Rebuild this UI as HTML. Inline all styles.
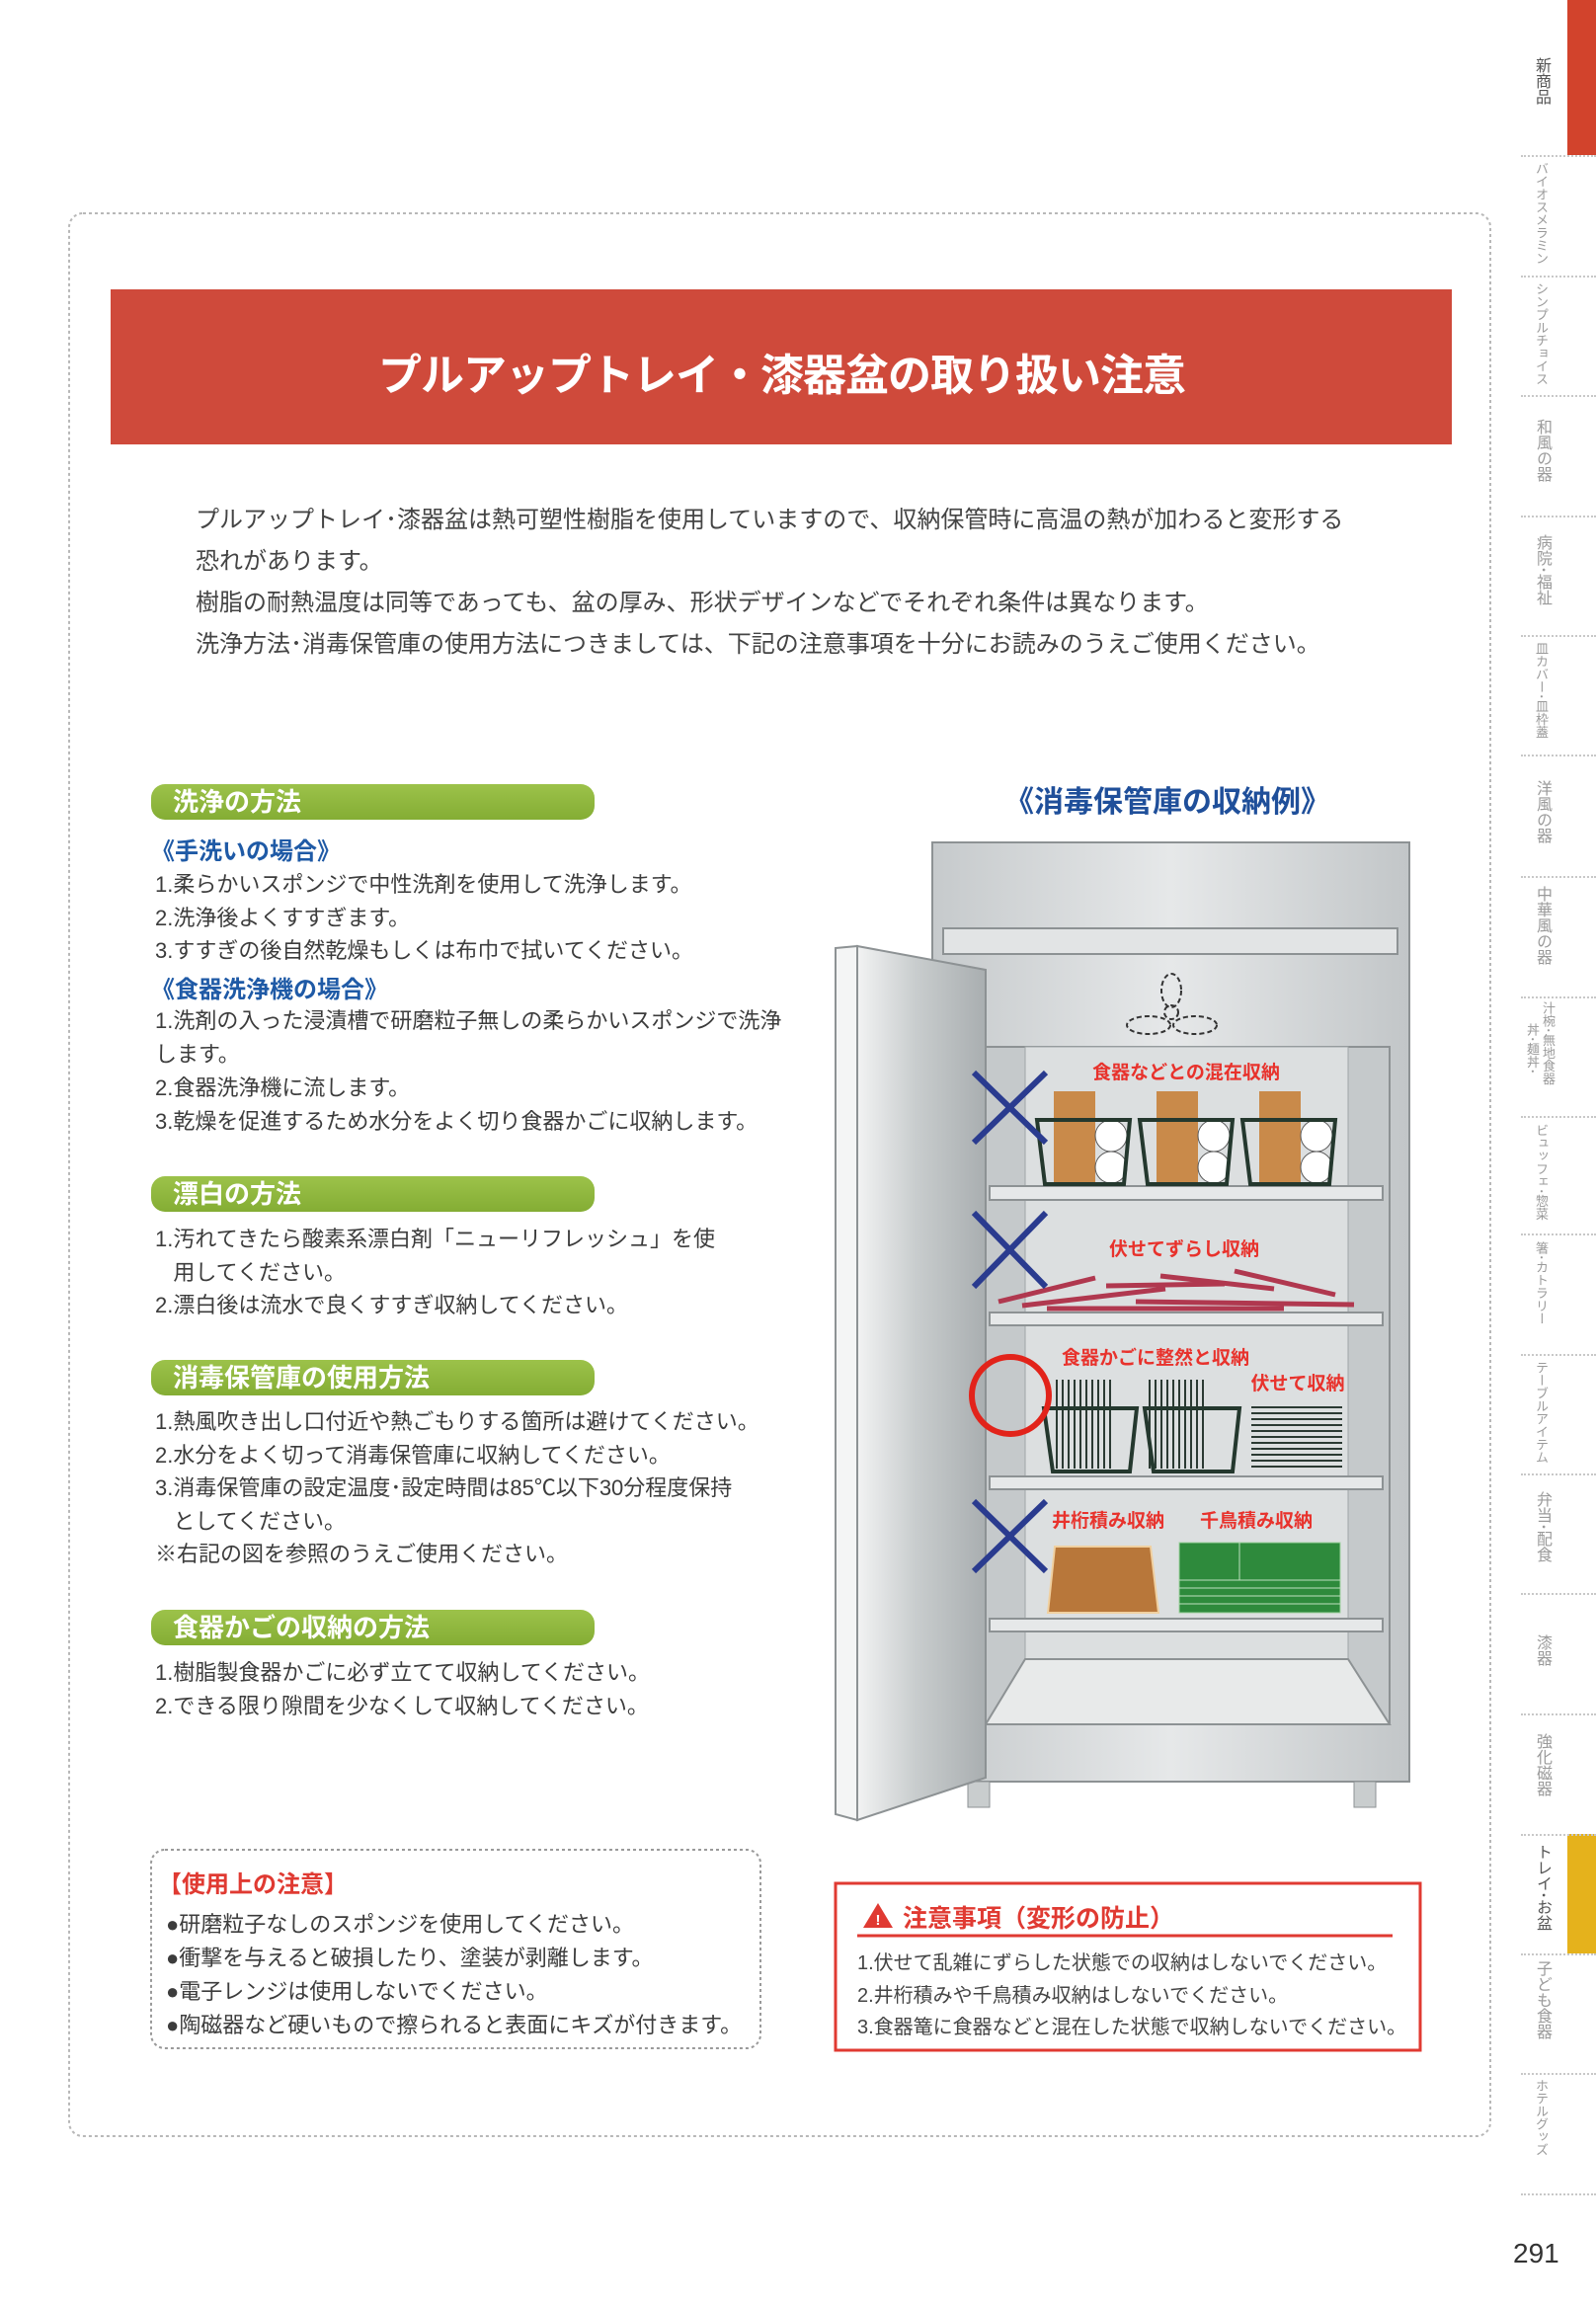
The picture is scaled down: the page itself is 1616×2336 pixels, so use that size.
<!DOCTYPE html>
<html><head><meta charset="utf-8">
<style>
html,body{margin:0;padding:0;background:#fff;}
body{width:1616px;height:2336px;position:relative;overflow:hidden;font-family:"Liberation Sans","Noto Sans CJK JP",sans-serif;color:#3a3a3a;}
.t{position:absolute;white-space:nowrap;}
.b{font-size:22px;color:#3c3c3c;}
.blue{font-size:24px;font-weight:bold;color:#1f5aa6;}
.pill{position:absolute;left:153px;width:449px;height:36px;border-radius:14px;background:linear-gradient(#9cc24a,#84ad34);color:#fff;font-weight:bold;font-size:26px;line-height:36px;padding-left:22px;box-sizing:border-box;}
.side{position:absolute;writing-mode:vertical-rl;font-size:13px;line-height:14px;color:#9a9a9a;letter-spacing:0;}
.sep{position:absolute;left:1540px;width:76px;border-top:2px dotted #c8c8c8;}
.lbl{font-size:19px;font-weight:bold;fill:#e8322c;font-family:"Liberation Sans","Noto Sans CJK JP",sans-serif;}
</style></head><body>
<svg width="1616" height="2336" style="position:absolute;left:0;top:0">
  <defs>
    <linearGradient id="door" x1="0" x2="1">
      <stop offset="0" stop-color="#f2f3f3"/><stop offset="0.45" stop-color="#c9cdce"/><stop offset="1" stop-color="#a9aeb0"/>
    </linearGradient>
    <linearGradient id="body" x1="0" x2="1">
      <stop offset="0" stop-color="#c6cacc"/><stop offset="0.5" stop-color="#e6e8e9"/><stop offset="1" stop-color="#c2c6c8"/>
    </linearGradient>
  </defs>
  <rect x="70" y="216" width="1439" height="1947" rx="14" fill="none" stroke="#b8b8b8" stroke-width="2" stroke-dasharray="3,3"/>
  <rect x="112" y="293" width="1358" height="157" fill="#cf4a3b"/>
  <rect x="944" y="853" width="483" height="951" fill="url(#body)" stroke="#8d9294" stroke-width="2"/>
  <rect x="955" y="940" width="460" height="26" fill="#e2e4e5" stroke="#8d9294" stroke-width="2"/>
  <rect x="998" y="1060" width="409" height="686" fill="#c5c9cb" stroke="#8d9294" stroke-width="2"/>
  <rect x="1038" y="1060" width="327" height="620" fill="#dcdfe0" stroke="#a0a5a7" stroke-width="1"/>
  <polygon points="1038,1680 1365,1680 1407,1746 998,1746" fill="#e8eaea" stroke="#8d9294" stroke-width="2"/>
  <rect x="980" y="1804" width="22" height="26" fill="#c9cdce" stroke="#8d9294"/>
  <rect x="1371" y="1804" width="22" height="26" fill="#c9cdce" stroke="#8d9294"/>
  <g fill="none" stroke="#333" stroke-width="2" stroke-dasharray="5,3">
    <ellipse cx="1186" cy="1003" rx="10" ry="17"/>
    <ellipse cx="1163" cy="1038" rx="22" ry="9"/>
    <ellipse cx="1210" cy="1038" rx="22" ry="9"/>
    <circle cx="1186" cy="1025" r="7"/>
  </g>
  <g fill="#e6e8e9" stroke="#8d9294" stroke-width="2">
    <rect x="1002" y="1201" width="398" height="14"/>
    <rect x="1002" y="1329" width="398" height="13"/>
    <rect x="1002" y="1495" width="398" height="13"/>
    <rect x="1002" y="1639" width="398" height="13"/>
  </g>
  <polygon points="846,960 868,958 868,1843 846,1837" fill="#f4f5f5" stroke="#8d9294" stroke-width="2"/>
  <polygon points="868,958 998,982 998,1800 868,1843" fill="url(#door)" stroke="#8d9294" stroke-width="2"/>
  <g>
    <g>
      <rect x="1067" y="1105" width="42" height="94" fill="#c98a4a"/>
      <circle cx="1125" cy="1150" r="16" fill="#fff" stroke="#555"/><circle cx="1125" cy="1182" r="16" fill="#fff" stroke="#555"/>
      <polygon points="1050,1134 1144,1134 1138,1199 1058,1199" fill="none" stroke="#24382e" stroke-width="4"/>
    </g>
    <g transform="translate(104,0)">
      <rect x="1067" y="1105" width="42" height="94" fill="#c98a4a"/>
      <circle cx="1125" cy="1150" r="16" fill="#fff" stroke="#555"/><circle cx="1125" cy="1182" r="16" fill="#fff" stroke="#555"/>
      <polygon points="1050,1134 1144,1134 1138,1199 1058,1199" fill="none" stroke="#24382e" stroke-width="4"/>
    </g>
    <g transform="translate(208,0)">
      <rect x="1067" y="1105" width="42" height="94" fill="#c98a4a"/>
      <circle cx="1125" cy="1150" r="16" fill="#fff" stroke="#555"/><circle cx="1125" cy="1182" r="16" fill="#fff" stroke="#555"/>
      <polygon points="1050,1134 1144,1134 1138,1199 1058,1199" fill="none" stroke="#24382e" stroke-width="4"/>
    </g>
  </g>
  <g stroke="#b0384f" stroke-width="5">
    <line x1="1011" y1="1318" x2="1109" y2="1294"/>
    <line x1="1035" y1="1322" x2="1180" y2="1305"/>
    <line x1="1120" y1="1302" x2="1240" y2="1300"/>
    <line x1="1175" y1="1292" x2="1290" y2="1305"/>
    <line x1="1250" y1="1287" x2="1352" y2="1311"/>
    <line x1="1150" y1="1318" x2="1371" y2="1321"/>
    <line x1="1060" y1="1325" x2="1300" y2="1325"/>
  </g>
  <g stroke="#2b3a33" stroke-width="2">
    <path d="M1070 1397v90M1076 1397v90M1082 1397v90M1088 1397v90M1094 1397v90M1100 1397v90M1106 1397v90M1112 1397v90M1118 1397v90M1124 1397v90"/>
    <path d="M1164 1397v90M1170 1397v90M1176 1397v90M1182 1397v90M1188 1397v90M1194 1397v90M1200 1397v90M1206 1397v90M1212 1397v90M1218 1397v90"/>
    <path d="M1267 1425h92M1267 1431h92M1267 1437h92M1267 1443h92M1267 1449h92M1267 1455h92M1267 1461h92M1267 1467h92M1267 1473h92M1267 1479h92M1267 1485h92"/>
  </g>
  <polygon points="1057,1426 1151,1426 1144,1490 1066,1490" fill="none" stroke="#24382e" stroke-width="4"/>
  <polygon points="1159,1426 1255,1426 1248,1490 1168,1490" fill="none" stroke="#24382e" stroke-width="4"/>
  <circle cx="1023" cy="1413" r="39" fill="none" stroke="#e2231a" stroke-width="6"/>
  <polygon points="1068,1566 1165,1566 1173,1633 1061,1633" fill="#b8773a" stroke="#f0d0a0" stroke-width="2"/>
  <rect x="1194" y="1562" width="163" height="71" fill="#2e8a3c" stroke="#9fd29f" stroke-width="1"/>
  <g stroke="#bfe0bf" stroke-width="1"><path d="M1194 1600h163M1194 1608h163M1194 1616h163M1194 1624h163M1255 1562v38"/></g>
  <g stroke="#2a3b8f" stroke-width="6">
    <path d="M986 1157L1059 1086M986 1086L1059 1157"/>
    <path d="M986 1303L1059 1228M986 1228L1059 1303"/>
    <path d="M986 1591L1059 1520M986 1520L1059 1591"/>
  </g>
  <text class="lbl" x="1201" y="1092" text-anchor="middle">食器などとの混在収納</text>
  <text class="lbl" x="1199" y="1271" text-anchor="middle">伏せてずらし収納</text>
  <text class="lbl" x="1170" y="1381" text-anchor="middle">食器かごに整然と収納</text>
  <text class="lbl" x="1314" y="1407" text-anchor="middle">伏せて収納</text>
  <text class="lbl" x="1122" y="1546" text-anchor="middle">井桁積み収納</text>
  <text class="lbl" x="1272" y="1546" text-anchor="middle">千鳥積み収納</text>
  <rect x="153" y="1873" width="617" height="201" rx="14" fill="none" stroke="#9a9a9a" stroke-width="2" stroke-dasharray="3,3"/>
  <rect x="846" y="1907" width="592" height="169" fill="none" stroke="#e03a32" stroke-width="3"/>
  <line x1="868" y1="1960" x2="1410" y2="1960" stroke="#e03a32" stroke-width="3"/>
  <polygon points="889,1927 874,1952 904,1952" fill="#e03a32"/>
  <text x="889" y="1949" text-anchor="middle" font-size="15" font-weight="bold" fill="#fff">!</text>
  <rect x="1587" y="0" width="29" height="157" fill="#d2432c"/>
  <rect x="1587" y="1857" width="29" height="121" fill="#e5b21c"/>
</svg>

<div class="t" style="left:383px;top:344px;font-size:44px;font-weight:bold;color:#fff;letter-spacing:-1px;">プルアップトレイ・漆器盆の取り扱い注意</div>

<div class="t" style="left:198px;top:506px;font-size:24px;color:#444;line-height:42px;">プルアップトレイ･漆器盆は熱可塑性樹脂を使用していますので、収納保管時に高温の熱が加わると変形する<br>恐れがあります。<br>樹脂の耐熱温度は同等であっても、盆の厚み、形状デザインなどでそれぞれ条件は異なります。<br>洗浄方法･消毒保管庫の使用方法につきましては、下記の注意事項を十分にお読みのうえご使用ください。</div>

<div class="pill" style="top:794px;">洗浄の方法</div>
<div class="t blue" style="left:153px;top:842px;">《手洗いの場合》</div>
<div class="t b" style="left:157px;top:879px;line-height:33.5px;">1.柔らかいスポンジで中性洗剤を使用して洗浄します。<br>2.洗浄後よくすすぎます。<br>3.すすぎの後自然乾燥もしくは布巾で拭いてください。</div>
<div class="t blue" style="left:153px;top:982px;">《食器洗浄機の場合》</div>
<div class="t b" style="left:157px;top:1017px;line-height:34px;">1.洗剤の入った浸漬槽で研磨粒子無しの柔らかいスポンジで洗浄<br>します。<br>2.食器洗浄機に流します。<br>3.乾燥を促進するため水分をよく切り食器かごに収納します。</div>

<div class="pill" style="top:1191px;">漂白の方法</div>
<div class="t b" style="left:157px;top:1238px;line-height:33.5px;">1.汚れてきたら酸素系漂白剤「ニューリフレッシュ」を使<br>&nbsp;&nbsp;&nbsp;用してください。<br>2.漂白後は流水で良くすすぎ収納してください。</div>

<div class="pill" style="top:1377px;">消毒保管庫の使用方法</div>
<div class="t b" style="left:157px;top:1423px;line-height:33.5px;">1.熱風吹き出し口付近や熱ごもりする箇所は避けてください。<br>2.水分をよく切って消毒保管庫に収納してください。<br>3.消毒保管庫の設定温度･設定時間は85℃以下30分程度保持<br>&nbsp;&nbsp;&nbsp;としてください。<br>※右記の図を参照のうえご使用ください。</div>

<div class="pill" style="top:1630px;">食器かごの収納の方法</div>
<div class="t b" style="left:157px;top:1677px;line-height:33.5px;">1.樹脂製食器かごに必ず立てて収納してください。<br>2.できる限り隙間を少なくして収納してください。</div>

<div class="t" style="left:1017px;top:787px;font-size:30px;font-weight:bold;color:#1f4f9a;">《消毒保管庫の収納例》</div>

<div class="t" style="left:160px;top:1888px;font-size:24px;font-weight:bold;color:#e03a32;">【使用上の注意】</div>
<div class="t b" style="left:168px;top:1932px;line-height:34px;">●研磨粒子なしのスポンジを使用してください。<br>●衝撃を与えると破損したり、塗装が剥離します。<br>●電子レンジは使用しないでください。<br>●陶磁器など硬いもので擦られると表面にキズが付きます。</div>

<div class="t" style="left:914px;top:1923px;font-size:25px;font-weight:bold;color:#e03a32;">注意事項（変形の防止）</div>
<div class="t" style="left:868px;top:1972px;font-size:20px;color:#444;line-height:32.5px;">1.伏せて乱雑にずらした状態での収納はしないでください。<br>2.井桁積みや千鳥積み収納はしないでください。<br>3.食器篭に食器などと混在した状態で収納しないでください。</div>

<div class="sep" style="top:157px"></div><div class="sep" style="top:279px"></div><div class="sep" style="top:400px"></div><div class="sep" style="top:522px"></div><div class="sep" style="top:643px"></div><div class="sep" style="top:764px"></div><div class="sep" style="top:887px"></div><div class="sep" style="top:1009px"></div><div class="sep" style="top:1130px"></div><div class="sep" style="top:1249px"></div><div class="sep" style="top:1371px"></div><div class="sep" style="top:1492px"></div><div class="sep" style="top:1613px"></div><div class="sep" style="top:1735px"></div><div class="sep" style="top:1857px"></div><div class="sep" style="top:1978px"></div><div class="sep" style="top:2099px"></div><div class="sep" style="top:2221px"></div>
<div class="side" style="left:1552px;top:58px;color:#555;font-size:16px;line-height:16px;">新商品</div>
<div class="side" style="left:1553px;top:164px;">バイオスメラミン</div>
<div class="side" style="left:1553px;top:286px;">シンプルチョイス</div>
<div class="side" style="left:1553px;top:424px;font-size:16px;line-height:16px;">和風の器</div>
<div class="side" style="left:1553px;top:541px;font-size:16px;line-height:16px;">病院･福祉</div>
<div class="side" style="left:1553px;top:650px;">皿カバー･皿枠蓋</div>
<div class="side" style="left:1553px;top:790px;font-size:16px;line-height:16px;">洋風の器</div>
<div class="side" style="left:1553px;top:897px;font-size:16px;line-height:16px;">中華風の器</div>
<div class="side" style="left:1560px;top:1014px;">汁椀･無地食器</div>
<div class="side" style="left:1544px;top:1036px;">丼･麺丼･</div>
<div class="side" style="left:1553px;top:1138px;">ビュッフェ･惣菜</div>
<div class="side" style="left:1553px;top:1257px;">箸･カトラリー</div>
<div class="side" style="left:1553px;top:1378px;">テーブルアイテム</div>
<div class="side" style="left:1553px;top:1510px;font-size:16px;line-height:16px;">弁当･配食</div>
<div class="side" style="left:1553px;top:1655px;font-size:16px;line-height:16px;">漆器</div>
<div class="side" style="left:1553px;top:1755px;font-size:16px;line-height:16px;">強化磁器</div>
<div class="side" style="left:1553px;top:1867px;color:#555;font-size:16px;line-height:16px;">トレイ･お盆</div>
<div class="side" style="left:1553px;top:1985px;font-size:16px;line-height:16px;">子ども食器</div>
<div class="side" style="left:1553px;top:2105px;">ホテルグッズ</div>
<div class="t" style="left:1532px;top:2266px;font-size:28px;color:#333;">291</div>
</body></html>
